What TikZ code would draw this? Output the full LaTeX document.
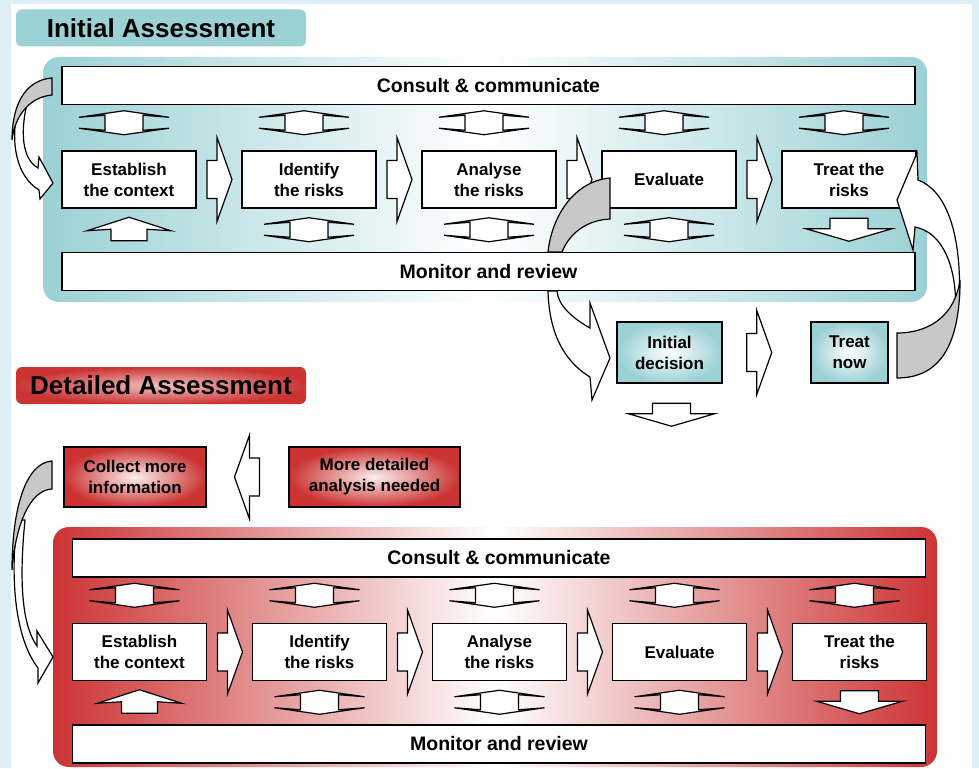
\documentclass[tikz,border=0pt]{standalone}
\usepackage{fontspec}
\setmainfont{Liberation Sans}
\usetikzlibrary{calc}

\definecolor{bgblue}{RGB}{221,238,244}
\definecolor{tealA}{RGB}{155,209,213}
\definecolor{redA}{RGB}{204,52,52}
\definecolor{greyA}{RGB}{200,200,200}

\newcommand{\labelfont}{\fontsize{17}{21}\selectfont\bfseries}
\newcommand{\barfont}{\fontsize{19.5}{22}\selectfont\bfseries}
\newcommand{\titlefont}{\fontsize{26}{30}\selectfont\bfseries}

\tikzset{
 box/.style={draw, line width=1.5pt, fill=white, minimum width=134pt, minimum height=57pt,
   inner sep=0pt, align=center, font=\labelfont},
 bar/.style={draw, line width=1.5pt, fill=white, minimum width=853pt, minimum height=38pt,
   inner sep=0pt, font=\barfont},
 title/.style={rounded corners=6pt, minimum width=290pt, minimum height=37pt, inner sep=0pt,
   font=\titlefont},
 blk/.style={draw, line width=1.2pt, fill=white},
 back/.style={draw, line width=1.2pt, fill=greyA},
 rarr/.pic={\path[blk] (-12,-19) -- (-2,-19) -- (-2,-42) -- (13,0) -- (-2,42) -- (-2,19) -- (-12,19) -- cycle;},
 larr/.pic={\path[blk] (12,-19) -- (2,-19) -- (2,-42) -- (-13,0) -- (2,42) -- (2,19) -- (12,19) -- cycle;},
 udarr/.pic={\path[blk] (0,-12) -- (45,-5.5) -- (19,-7.5) -- (19,7.5) -- (45,5.5) -- (0,12)
   -- (-45,5.5) -- (-19,7.5) -- (-19,-7.5) -- (-45,-5.5) -- cycle;},
 uarr/.pic={\path[blk] (0,-12) -- (42,1.5) -- (18,0) -- (18,11.5) -- (-18,11.5) -- (-18,0) -- (-42,1.5) -- cycle;},
 darr/.pic={\path[blk] (0,11.5) -- (43,-1) -- (19,-1) -- (19,-11.5) -- (-19,-11.5) -- (-19,-1) -- (-43,-1) -- cycle;},
}

% one assessment row: #1 name prefix, #2 #3 offset
\newcommand{\riskrow}[3]{%
  \node[bar] (#1con) at (488.5+#2,85.5+#3) {Consult \& communicate};
  \node[bar] (#1mon) at (488.5+#2,271.5+#3) {Monitor and review};
  \foreach \txt [count=\k from 0] in {{Establish\\the context},{Identify\\the risks},{Analyse\\the risks},{Evaluate},{Treat the\\risks}}
    \node[box] (#1\k) at (129+180*\k+#2,179.5+#3) {\txt};
  \foreach \k [count=\j] in {0,...,3}
    \pic at ($(#1\k.east)!.5!(#1\j.west)$) {rarr};
  \foreach \k in {0,...,4}
    \pic at ($(#1\k.north)+(-5,-27.5)$) {udarr};
  \foreach \k in {1,2,3}
    \pic at ($(#1\k.south)+(0,21)$) {udarr};
  \pic at ($(#10.south)+(0,20.5)$) {uarr};
  \pic at ($(#14.south)+(0,21)$) {darr};
}

\begin{document}
\begin{tikzpicture}[x=1pt,y=-1pt]
\useasboundingbox (0,0) rectangle (979,768);
\fill[bgblue] (0,0) rectangle (979,768);
\fill[white] (11,4) rectangle (972,768);

% titles
\node[title, fill=tealA] (initT) at (161,28) {Initial Assessment};
\node[title, inner color=redA!30!white, outer color=redA] (detT) at (161,385.5) {Detailed Assessment};

% panels
\path[rounded corners=16pt, left color=tealA, right color=tealA, middle color=white] (43,57) rectangle (927,302);
\path[rounded corners=16pt, left color=redA, right color=redA, middle color=white] (53,527) rectangle (937,767);

\riskrow{i}{0}{0}
\riskrow{d}{10.5}{472.5}

% decision after the first pass
\node[box, minimum width=105pt, minimum height=61pt, inner color=white, outer color=tealA] (dec) at (669.5,352.5) {Initial\\decision};
\node[box, minimum width=77pt, minimum height=61pt, inner color=white, outer color=tealA] (now) at (849.5,352.5) {Treat\\now};
\pic at ($(dec.east)+(36,0)$) {rarr};
\pic at ($(dec.south)+(2,31)$) {darr};

\node[box, minimum width=142pt, minimum height=60pt, inner color=redA!8!white, outer color=redA] (col) at (135,477) {Collect more\\information};
\node[box, minimum width=171pt, minimum height=60pt, inner color=redA!8!white, outer color=redA] (more) at (374.5,477) {More detailed\\analysis needed};
\pic at ($(col.east)!.5!(more.west)$) {larr};

% curved arrows
\path[blk] (18,108) .. controls (10,142) and (16,176) .. (39,190) -- (40,199) -- (53,183) -- (39,157)
  -- (38,168) .. controls (24,160) and (20,138) .. (26,108) -- cycle;
\path[back] (52,78) .. controls (25,80) and (12,105) .. (12,140) .. controls (15,115) and (30,97) .. (52,95) -- cycle;

\path[back] (610,178) .. controls (575,181) and (552,215) .. (548,252) -- (562,252)
  .. controls (570,232) and (588,220) .. (610,219) -- cycle;
\path[blk] (548,291) .. controls (549,330) and (562,360) .. (590,377) -- (592,400) -- (610,358) -- (590,303)
  -- (590,328) .. controls (572,318) and (558,305) .. (557,291) -- cycle;

\path[blk] (959.5,296) .. controls (961,230) and (945,190) .. (918,180) -- (917,153) -- (897,200) -- (913,250)
  -- (915,227) .. controls (940,232) and (954,260) .. (955.5,298) -- cycle;
\path[back] (897,333) -- (897,378) .. controls (940,378) and (960,345) .. (960,280)
  .. controls (955,315) and (930,333) .. (897,333) -- cycle;

\path[blk] (17,520) .. controls (9,590) and (18,642) .. (38,668) -- (38,683) -- (53,657) -- (37,631)
  -- (37,646) .. controls (24,628) and (18,590) .. (25,520) -- cycle;
\path[back] (52,461) .. controls (25,463) and (12,510) .. (12,570) .. controls (15,530) and (28,490) .. (52,489) -- cycle;
\end{tikzpicture}
\end{document}
